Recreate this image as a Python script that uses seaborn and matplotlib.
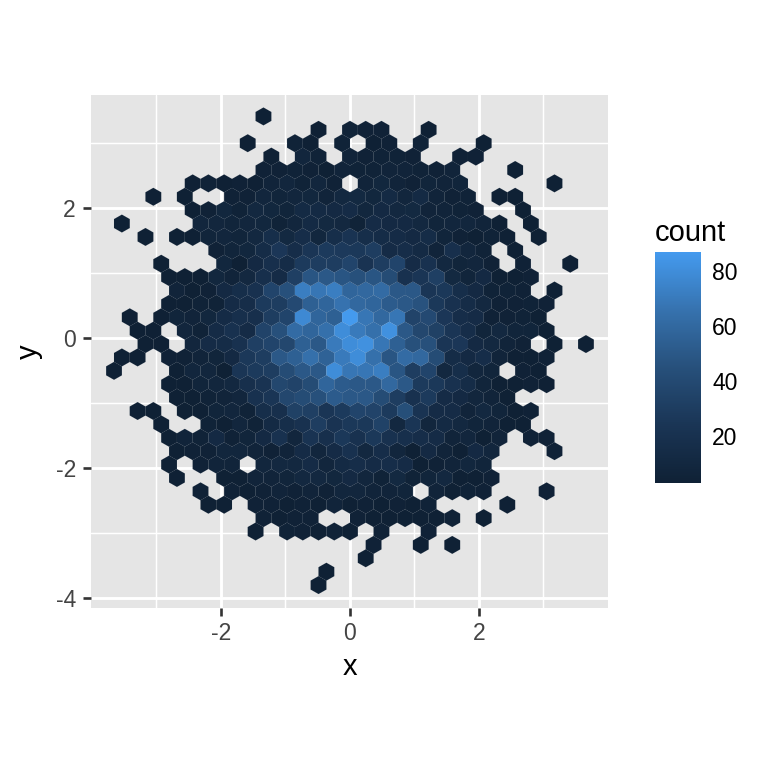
"""
plot.py - Hexagon-binned counts of x and y, read off the reference chart.
"""

import matplotlib.pyplot as plt
import numpy as np
import seaborn as sns

# binned counts, one list per hexagon row from top to bottom (0 = empty cell)
row_00 = [3]
row_01 = [3, 0, 5, 4, 4, 0, 0, 3]
row_02 = [3, 0, 0, 5, 3, 0, 5, 0, 3, 4, 0, 5, 0, 0, 0, 3]
row_03 = [3, 0, 8, 5, 0, 6, 4, 5, 5, 4, 0, 0, 4, 4]
row_04 = [4, 4, 5, 4, 3, 6, 5, 5, 6, 6, 5, 4, 6, 0, 0, 0, 3]
row_05 = [3, 5, 3, 4, 3, 6, 8, 5, 8, 4, 0, 6, 9, 6, 4, 7, 6, 7, 0, 0, 0, 0, 0, 3]
row_06 = [3, 0, 3, 0, 0, 4, 4, 8, 7, 8, 9, 6, 10, 11, 9, 13, 8, 13, 6, 4, 5, 0, 3, 3]
row_07 = [3, 4, 9, 5, 10, 9, 7, 13, 13, 12, 14, 9, 12, 10, 11, 6, 6, 5, 4, 0, 0, 3]
row_08 = [3, 0, 0, 0, 0, 8, 8, 7, 8, 9, 5, 8, 13, 11, 10, 5, 14, 12, 12, 10, 7, 8, 8, 6, 3, 0, 3]
row_09 = [3, 0, 3, 3, 7, 8, 7, 10, 17, 11, 16, 9, 17, 22, 17, 15, 14, 12, 15, 7, 4, 3, 5, 3, 0, 3]
row_10 = [4, 7, 9, 15, 25, 16, 24, 28, 27, 26, 30, 14, 16, 13, 6, 18, 8, 5, 0, 3]
row_11 = [3, 0, 0, 0, 9, 3, 12, 18, 15, 28, 30, 30, 36, 22, 30, 36, 14, 20, 10, 7, 8, 4, 0, 4, 0, 0, 3]
row_12 = [3, 3, 3, 9, 6, 10, 18, 14, 32, 48, 50, 48, 45, 48, 42, 20, 24, 32, 11, 7, 12, 3, 3, 4]
row_13 = [6, 3, 4, 12, 17, 20, 36, 45, 72, 68, 72, 58, 60, 62, 50, 50, 24, 26, 17, 12, 5, 5, 4, 0, 3]
row_14 = [3, 3, 5, 5, 14, 16, 28, 30, 40, 55, 58, 66, 60, 58, 52, 50, 46, 26, 20, 15, 10, 4, 4, 5, 4]
row_15 = [3, 0, 3, 7, 6, 9, 14, 18, 18, 30, 36, 78, 58, 55, 87, 68, 60, 68, 35, 40, 25, 16, 14, 4, 4, 5, 3]
row_16 = [3, 3, 0, 8, 5, 14, 20, 14, 35, 45, 62, 58, 65, 80, 70, 65, 82, 50, 38, 33, 24, 16, 7, 10, 7, 7, 3]
row_17 = [3, 3, 0, 8, 14, 15, 20, 32, 36, 38, 55, 50, 70, 80, 82, 68, 55, 45, 45, 24, 25, 12, 10, 6, 4, 0, 3, 0, 3]
row_18 = [3, 3, 0, 4, 4, 6, 7, 12, 26, 30, 50, 55, 65, 56, 70, 80, 65, 48, 62, 60, 42, 15, 12, 16, 6, 3, 3, 4]
row_19 = [3, 0, 0, 0, 3, 8, 8, 3, 24, 28, 30, 42, 50, 50, 80, 68, 68, 72, 48, 30, 36, 10, 17, 8, 7, 0, 4, 3]
row_20 = [3, 3, 7, 8, 10, 18, 22, 38, 35, 42, 58, 52, 50, 50, 60, 50, 28, 26, 20, 15, 7, 3, 3, 4, 3]
row_21 = [3, 3, 5, 6, 8, 20, 24, 38, 42, 45, 52, 50, 50, 42, 30, 20, 28, 14, 12, 8, 6, 3]
row_22 = [3, 3, 0, 3, 3, 7, 8, 5, 17, 18, 33, 32, 24, 28, 36, 35, 28, 44, 22, 14, 14, 6, 10, 7, 3, 4]
row_23 = [3, 0, 0, 5, 3, 8, 5, 13, 17, 20, 30, 22, 26, 26, 34, 10, 24, 8, 13, 10, 7, 6, 3, 3]
row_24 = [3, 6, 5, 12, 4, 7, 12, 20, 8, 22, 18, 26, 20, 26, 20, 18, 16, 14, 6, 8, 3, 6, 0, 4, 4]
row_25 = [3, 4, 4, 8, 8, 6, 4, 6, 14, 8, 14, 20, 10, 16, 8, 3, 12, 6, 3, 12, 8, 0, 0, 0, 4]
row_26 = [3, 0, 4, 6, 6, 0, 8, 10, 10, 14, 8, 13, 16, 14, 16, 14, 3, 4, 6, 9, 7]
row_27 = [3, 0, 0, 3, 3, 6, 6, 7, 10, 10, 9, 12, 8, 5, 11, 5, 7, 10, 3, 3, 4]
row_28 = [4, 0, 4, 3, 4, 6, 4, 6, 4, 8, 8, 6, 6, 7, 0, 6, 3, 5, 4, 0, 0, 0, 4]
row_29 = [3, 3, 0, 4, 4, 3, 4, 3, 6, 3, 4, 3, 4, 3, 5, 0, 0, 0, 0, 3]
row_30 = [4, 3, 4, 4, 0, 0, 4, 3, 3, 3, 3, 3, 4, 0, 3]
row_31 = [3, 0, 5, 4, 3, 5, 3, 0, 4, 0, 0, 4]
row_32 = [4, 0, 0, 3, 0, 3]
row_33 = [3]
row_34 = [3]
row_35 = [3]

rows = [
    row_00, row_01, row_02, row_03, row_04, row_05, row_06, row_07, row_08,
    row_09, row_10, row_11, row_12, row_13, row_14, row_15, row_16, row_17,
    row_18, row_19, row_20, row_21, row_22, row_23, row_24, row_25, row_26,
    row_27, row_28, row_29, row_30, row_31, row_32, row_33, row_34, row_35,
]
# half-column index of the first cell in each row
first_cell = [
    -11, -4, -13, -10, -11, -20, -25, -20, -29, -26, -17, -24, -23, -22, -23, -28, -27, -26,
    -29, -30, -23, -22, -27, -24, -23, -22, -23, -22, -19, -18, -11, -12, 3, 2, -3, -4,
]

x_ticks = [-2, 0, 2]
y_ticks = [-4, -2, 0, 2]
x_minor = [-3, -1, 1, 3]
y_minor = [-3, -1, 1, 3]
cbar_ticks = [20, 40, 60, 80]

half_col = 0.12194
row_step = 0.2062
y_top = 3.41

x, y, c = [], [], []
for i, (start, counts) in enumerate(zip(first_cell, rows)):
    for k, n in enumerate(counts):
        if n > 0:
            x.append((start + 2 * k) * half_col)
            y.append(y_top - i * row_step)
            c.append(n)

sns.set_theme(style="darkgrid", rc={"axes.facecolor": "#E5E5E5", "grid.color": "white"})
plt.rcParams["font.family"] = ["Liberation Sans", "DejaVu Sans"]
plt.rcParams["axes.unicode_minus"] = False

fig = plt.figure(figsize=(7.68, 7.68), dpi=100)
ax = fig.add_axes([91 / 768, 160 / 768, 517 / 768, 513 / 768])

cmap = sns.blend_palette(["#0F2135", "#1A3555", "#27507B", "#3672AE", "#449AEE"], as_cmap=True)
x_edge = 16 * 2 * half_col
y_low = y_top - 35 * row_step
hb = ax.hexbin(
    x, y, C=c, reduce_C_function=np.sum,
    gridsize=(32, 18),
    extent=(-x_edge, x_edge, y_low, y_low + 36 * row_step),
    cmap=cmap, vmin=3, vmax=87, edgecolors="face", linewidths=0.05, zorder=3,
)

ax.set_xlim(-4.015, 4.0)
ax.set_ylim(-4.16, 3.74)
ax.set_xticks(x_ticks)
ax.set_yticks(y_ticks)
ax.set_xticks(x_minor, minor=True)
ax.set_yticks(y_minor, minor=True)
ax.grid(which="major", color="white", linewidth=2.1)
ax.grid(which="minor", color="white", linewidth=1.05)
ax.tick_params(axis="both", which="major", bottom=True, left=True, length=5.8, width=1.9,
               color="#333333", labelcolor="#444444", labelsize=16.5)
ax.tick_params(axis="x", which="major", pad=4.3)
ax.tick_params(axis="y", which="major", pad=5)
ax.tick_params(axis="both", which="minor", bottom=False, left=False)
ax.set_xlabel("x", fontsize=21, labelpad=6, color="black")
ax.set_ylabel("y", fontsize=21, labelpad=9, color="black")
for side in ax.spines.values():
    side.set_visible(False)

cax = fig.add_axes([654.5 / 768, 285.3 / 768, 46 / 768, 230.4 / 768])
cbar = fig.colorbar(hb, cax=cax)
cbar.set_ticks(cbar_ticks)
cbar.outline.set_visible(False)
cax.tick_params(axis="y", which="both", direction="in", left=True, right=True, length=6.5,
                width=0.8, color="white", labelcolor="black", labelsize=16.5, pad=8.5)
cax.minorticks_off()
cax.set_title("count", loc="left", fontsize=21, pad=8, color="black")

fig.savefig("out.png", dpi=100)
plt.close(fig)
